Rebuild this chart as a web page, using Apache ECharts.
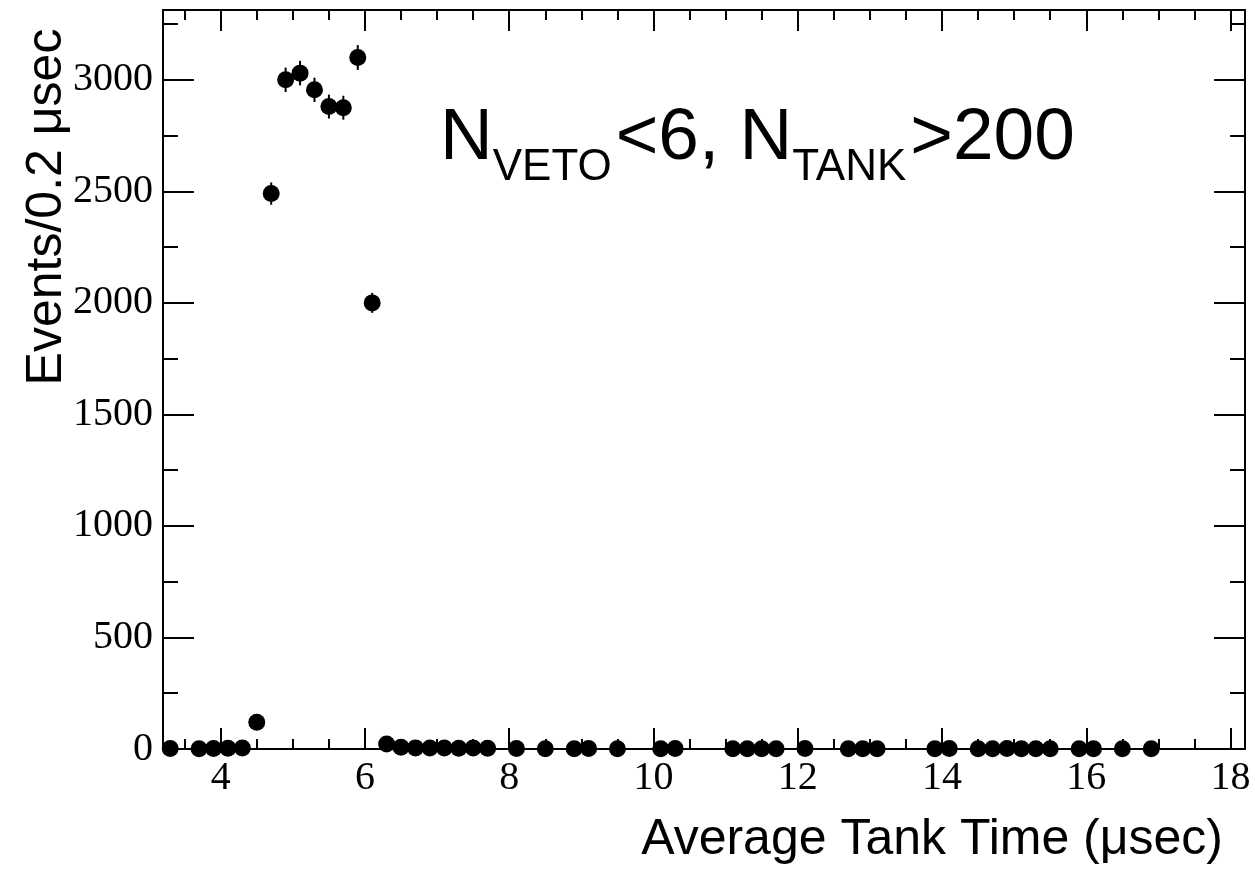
<!DOCTYPE html>
<html>
<head>
<meta charset="utf-8">
<script src="https://cdn.jsdelivr.net/npm/echarts@6/dist/echarts.min.js"></script>
<style>
html,body{margin:0;padding:0;background:#fff;}
#chart{width:1255px;height:872px;}
</style>
</head>
<body>
<div id="chart"></div>
<script>
// ---- data ----
const binCenters = [3.3,3.7,3.9,4.1,4.3,4.5,4.7,4.9,5.1,5.3,5.5,5.7,5.9,6.1,6.3,6.5,6.7,6.9,7.1,7.3,7.5,7.7,8.1,8.5,8.9,9.1,9.5,10.1,10.3,11.1,11.3,11.5,11.7,12.1,12.7,12.9,13.1,13.9,14.1,14.5,14.7,14.9,15.1,15.3,15.5,15.9,16.1,16.5,16.9];
const eventCounts = [2,1,2,3,4,120,2490,3000,3030,2955,2880,2875,3100,2000,22,8,5,4,4,3,4,3,2,1,1,2,1,1,2,1,1,1,1,2,1,1,1,1,2,1,1,2,1,1,1,1,1,1,1];
const xMajorTicks = [4,6,8,10,12,14,16,18];
const xMinorTicks = [3.5,4.5,5,5.5,6.5,7,7.5,8.5,9,9.5,10.5,11,11.5,12.5,13,13.5,14.5,15,15.5,16.5,17,17.5];
const yMajorTicks = [0,500,1000,1500,2000,2500,3000];
const yMinorTicks = [250,750,1250,1750,2250,2750,3250];
const xRange = [3.2, 18.2];
const yRange = [0, 3313];
const xTitle = 'Average Tank Time (μsec)';
const yTitle = 'Events/0.2 μsec';
const annotationParts = [
  {text: 'N', sub: false},
  {text: 'VETO', sub: true},
  {text: '<6, N', sub: false},
  {text: 'TANK', sub: true},
  {text: '>200', sub: false}
];

const points = binCenters.map((x, i) => [x, eventCounts[i]]);

const serif = '"Liberation Serif", "Times New Roman", serif';
const sans = '"Liberation Sans", Arial, sans-serif';
const black = '#000';
const plain = v => String(v);

function xAxisDef(pos, ticks, len, withLine, withLabels) {
  return {
    type: 'value', position: pos, min: xRange[0], max: xRange[1],
    axisLine: {show: withLine, onZero: false, lineStyle: {color: black, width: 2}},
    axisTick: {show: true, inside: true, length: len, customValues: ticks, lineStyle: {color: black, width: 2}},
    axisLabel: withLabels ? {show: true, customValues: xMajorTicks, formatter: plain, color: black, fontFamily: serif, fontSize: 40, margin: 9} : {show: false},
    splitLine: {show: false}
  };
}
function yAxisDef(pos, ticks, len, withLine, withLabels) {
  return {
    type: 'value', position: pos, min: yRange[0], max: yRange[1],
    axisLine: {show: withLine, onZero: false, lineStyle: {color: black, width: 2}},
    axisTick: {show: true, inside: true, length: len, customValues: ticks, lineStyle: {color: black, width: 2}},
    axisLabel: withLabels ? {show: true, customValues: yMajorTicks, formatter: plain, color: black, fontFamily: serif, fontSize: 40, margin: 10} : {show: false},
    splitLine: {show: false}
  };
}

// annotation layout with measured widths
const bigSize = 73, subSize = 44;
const ctx = document.createElement('canvas').getContext('2d');
let ax = 440;
const baseY = 164, subBaseY = 183;
const annotationGraphics = [];
annotationParts.forEach(p => {
  const fs = p.sub ? subSize : bigSize;
  ctx.font = fs + 'px ' + sans;
  const w = ctx.measureText(p.text).width;
  annotationGraphics.push({
    type: 'text', x: ax, y: (p.sub ? subBaseY : baseY) - 0.35 * fs,
    style: {text: p.text, fill: black, font: fs + 'px ' + sans, align: 'left', verticalAlign: 'middle'}
  });
  ax += w + (p.sub ? 4 : 0);
});

const chart = echarts.init(document.getElementById('chart'), null, {renderer: 'canvas'});
chart.setOption({
  animation: false,
  backgroundColor: '#fff',
  grid: {left: 163, right: 10, top: 10, bottom: 123, containLabel: false, outerBoundsMode: 'none'},
  xAxis: [
    xAxisDef('bottom', xMajorTicks, 21, true, true),
    xAxisDef('bottom', xMinorTicks, 10, false, false),
    xAxisDef('top', xMajorTicks, 21, true, false),
    xAxisDef('top', xMinorTicks, 10, false, false)
  ],
  yAxis: [
    yAxisDef('left', yMajorTicks, 31, true, true),
    yAxisDef('left', yMinorTicks, 15, false, false),
    yAxisDef('right', yMajorTicks, 31, true, false),
    yAxisDef('right', yMinorTicks, 15, false, false)
  ],
  series: [
    {
      type: 'custom', xAxisIndex: 0, yAxisIndex: 0, data: points, z: 2,
      encode: {x: 0, y: 1},
      renderItem: function (params, api) {
        const x = api.value(0), y = api.value(1), e = Math.sqrt(y);
        const p1 = api.coord([x, y + e]);
        const p2 = api.coord([x, Math.max(0, y - e)]);
        return {type: 'line', shape: {x1: p1[0], y1: p1[1], x2: p2[0], y2: p2[1]},
                style: {stroke: black, lineWidth: 2}};
      }
    },
    {
      type: 'scatter', xAxisIndex: 0, yAxisIndex: 0, data: points, z: 3,
      symbol: 'circle', symbolSize: 17, itemStyle: {color: black, opacity: 1}
    }
  ],
  graphic: [
    {
      type: 'text', x: 1223, y: 840,
      style: {text: xTitle, fill: black, font: '50px ' + sans, align: 'right', verticalAlign: 'middle'}
    },
    {
      type: 'text', x: 47, y: 207, rotation: Math.PI / 2,
      style: {text: yTitle, fill: black, font: '50px ' + sans, align: 'center', verticalAlign: 'middle'}
    }
  ].concat(annotationGraphics)
});
</script>
</body>
</html>
